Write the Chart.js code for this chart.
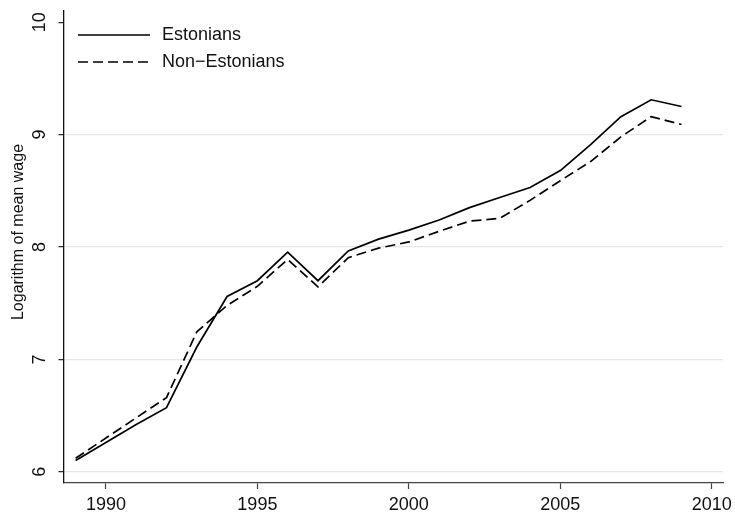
<!DOCTYPE html>
<html>
<head>
<meta charset="utf-8">
<script src="https://cdn.jsdelivr.net/npm/chart.js@4.4.1/dist/chart.umd.min.js"></script>
<style>
  html, body { margin: 0; padding: 0; background: #fff; }
  #wrap { width: 735px; height: 516px; position: relative; }
</style>
</head>
<body>
<div id="wrap"><canvas id="chart"></canvas></div>
<script>
// Chart data
const years = [1989, 1990, 1991, 1992, 1993, 1994, 1995, 1996, 1997, 1998, 1999,
               2000, 2001, 2002, 2003, 2004, 2005, 2006, 2007, 2008, 2009];
const estonians = [6.10, 6.26, 6.42, 6.57, 7.11, 7.56, 7.70, 7.955, 7.70, 7.965, 8.07,
                   8.15, 8.24, 8.35, 8.44, 8.53, 8.68, 8.91, 9.16, 9.31, 9.25];
const nonEstonians = [6.12, 6.30, 6.48, 6.66, 7.245, 7.48, 7.65, 7.89, 7.645, 7.905, 7.99,
                      8.045, 8.14, 8.23, 8.255, 8.415, 8.59, 8.76, 8.98, 9.16, 9.09];
const xTicks = [1990, 1995, 2000, 2005, 2010];
const yTicks = [6, 7, 8, 9, 10];
const seriesLabels = ['Estonians', 'Non\u2212Estonians'];
const yTitle = 'Logarithm of mean wage';

const toPoints = vals => years.map((yr, i) => ({ x: yr, y: vals[i] }));
const FONT = 'Liberation Sans, Arial, sans-serif';

// draws the rotated y labels, the axis title and the in-plot legend
const extras = {
  id: 'extras',
  afterDraw(chart) {
    const ctx = chart.ctx;
    const ys = chart.scales.y;
    ctx.save();
    ctx.fillStyle = '#111';
    ctx.textAlign = 'center';
    ctx.textBaseline = 'middle';
    ctx.font = '18px ' + FONT;
    yTicks.forEach(v => {
      ctx.save();
      ctx.translate(40, ys.getPixelForValue(v));
      ctx.rotate(-Math.PI / 2);
      ctx.fillText(String(v), 0, 0);
      ctx.restore();
    });
    ctx.save();
    ctx.font = '16px ' + FONT;
    ctx.translate(19, 232);
    ctx.rotate(-Math.PI / 2);
    ctx.fillText(yTitle, 0, 0);
    ctx.restore();

    // legend
    ctx.textAlign = 'left';
    ctx.font = '18px ' + FONT;
    chart.data.datasets.forEach((ds, i) => {
      const yy = 35 + i * 27;
      ctx.beginPath();
      ctx.strokeStyle = ds.borderColor;
      ctx.lineWidth = ds.borderWidth;
      ctx.setLineDash(ds.borderDash || []);
      ctx.moveTo(78, yy);
      ctx.lineTo(150, yy);
      ctx.stroke();
      ctx.setLineDash([]);
      ctx.fillText(ds.label, 162, yy);
    });
    ctx.restore();
  }
};

new Chart(document.getElementById('chart'), {
  type: 'line',
  data: {
    datasets: [
      { label: seriesLabels[0], data: toPoints(estonians), borderColor: '#000',
        borderWidth: 1.7, pointRadius: 0, tension: 0, fill: false },
      { label: seriesLabels[1], data: toPoints(nonEstonians), borderColor: '#000',
        borderWidth: 1.7, borderDash: [10, 5], pointRadius: 0, tension: 0, fill: false }
    ]
  },
  options: {
    responsive: true,
    maintainAspectRatio: false,
    animation: false,
    layout: { padding: { top: 11, right: 12, left: 0, bottom: 0 } },
    plugins: { legend: { display: false }, tooltip: { enabled: false } },
    scales: {
      x: {
        type: 'linear',
        min: 1988.6,
        max: 2010.37,
        afterBuildTicks: s => { s.ticks = xTicks.map(v => ({ value: v })); },
        afterFit: s => { s.height = 33; s.paddingLeft = 0; s.paddingRight = 0; },
        grid: { drawOnChartArea: false, drawTicks: true, tickLength: 6, tickColor: '#444', tickWidth: 1.2 },
        border: { color: '#444', width: 1.3 },
        ticks: { color: '#111', font: { family: FONT, size: 18 }, padding: 5, maxRotation: 0,
                 callback: v => String(v) }
      },
      y: {
        type: 'linear',
        min: 5.9,
        max: 10.1,
        afterBuildTicks: s => { s.ticks = yTicks.map(v => ({ value: v })); },
        afterFit: s => { s.width = 63.5; s.paddingTop = 0; s.paddingBottom = 0; },
        grid: {
          color: ctx => (ctx.tick && ctx.tick.value === 10) ? 'rgba(0,0,0,0)' : '#e6e6e6',
          lineWidth: 1.3,
          drawTicks: true, tickLength: 5, tickColor: '#222', tickWidth: 1.2
        },
        border: { color: '#111', width: 1.3 },
        ticks: { display: false }
      }
    }
  },
  plugins: [extras]
});
</script>
</body>
</html>
